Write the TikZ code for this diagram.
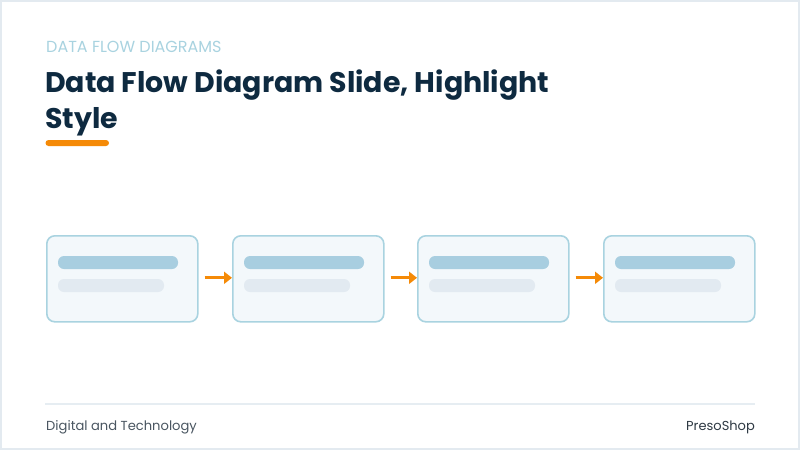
\documentclass[tikz,border=0pt]{standalone}
\usepackage{fontspec}
\setmainfont{Poppins}
\usetikzlibrary{arrows.meta,calc}
\definecolor{titleC}{HTML}{0E2A40}
\definecolor{kickerC}{HTML}{A9D3E0}
\definecolor{orangeC}{HTML}{F58A07}
\definecolor{boxStroke}{HTML}{A9D3E0}
\definecolor{boxFill}{HTML}{F3F8FB}
\definecolor{barA}{HTML}{A8CEE0}
\definecolor{barB}{HTML}{E2EAF1}
\definecolor{footLine}{HTML}{E6EDF2}
\definecolor{footText}{HTML}{4A5661}
\definecolor{brandC}{HTML}{2F3A44}
\definecolor{frameC}{HTML}{E3EAF0}
\tikzset{
  stepbox/.style={draw=boxStroke, line width=1.6pt, fill=boxFill, rounded corners=8pt, minimum width=151pt, minimum height=86pt, inner sep=0pt},
  flowarrow/.style={draw=orangeC, line width=3.2pt, -{Triangle[length=8pt,width=12pt]}},
  barone/.style={fill=barA, rounded corners=6pt},
  bartwo/.style={fill=barB, rounded corners=6pt},
  txt/.style={anchor=base west, inner sep=0pt},
}
\begin{document}
\begin{tikzpicture}[x=1pt,y=-1pt]
\useasboundingbox (0,0) rectangle (800,450);
\fill[white] (0,0) rectangle (800,450);
\draw[frameC, line width=2pt] (1,1) rectangle (799,449);
% header
\node[txt, text=kickerC, font=\fontsize{16}{18}\selectfont] (kicker) at (46,52) {DATA FLOW DIAGRAMS};
\node[txt, text=titleC, font=\fontsize{28.4}{36}\selectfont\bfseries] (title1) at (45,92) {Data Flow Diagram Slide, Highlight};
\node[txt, text=titleC, font=\fontsize{28.4}{36}\selectfont\bfseries] (title2) at (45,128) {Style};
\fill[orangeC, rounded corners=3pt] (45.5,140) rectangle (109,146);
% boxes
\foreach \i/\x in {1/46, 2/232, 3/417, 4/603}{
  \node[stepbox, anchor=north west] (b\i) at (\x,235) {};
  \fill[barone] (\x+12,256) rectangle (\x+132,269);
  \fill[bartwo] (\x+12,279) rectangle (\x+118,292);
}
\foreach \a/\b in {1/2, 2/3, 3/4}{
  \draw[flowarrow] ([xshift=6pt,yshift=1pt]b\a.east) -- ([yshift=1pt]b\b.west);
}
% footer
\draw[footLine, line width=2pt] (45,404) -- (755,404);
\node[txt, text=footText, font=\fontsize{13.1}{15}\selectfont] (foot1) at (46,430.5) {Digital and Technology};
\node[anchor=base east, inner sep=0pt, text=brandC, font=\fontsize{13}{15}\selectfont] (foot2) at (755,430.5) {PresoShop};
\end{tikzpicture}
\end{document}
